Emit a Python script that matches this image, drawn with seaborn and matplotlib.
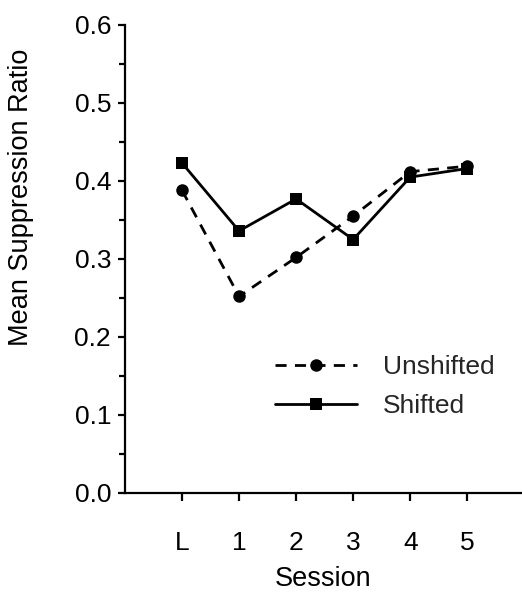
import matplotlib
matplotlib.use("Agg")
import matplotlib.pyplot as plt
import seaborn as sns
import pandas as pd
from matplotlib.ticker import MultipleLocator

sessions = ["L", "1", "2", "3", "4", "5"]
unshifted = [0.388, 0.252, 0.302, 0.355, 0.412, 0.419]
shifted = [0.423, 0.336, 0.377, 0.325, 0.405, 0.416]
groups = ["Unshifted", "Shifted"]

df = pd.DataFrame({
    "Session": sessions * 2,
    "Ratio": unshifted + shifted,
    "Group": [groups[0]] * len(sessions) + [groups[1]] * len(sessions),
})

sns.set_theme(style="ticks")
plt.rcParams["font.family"] = ["Liberation Sans", "DejaVu Sans"]

fig = plt.figure(figsize=(5.22, 5.93), dpi=100)
ax = fig.add_axes([125 / 522, 100 / 593, 1 - 125 / 522, 468 / 593])

sns.lineplot(
    data=df, x="Session", y="Ratio", style="Group", style_order=groups,
    markers={"Unshifted": "o", "Shifted": "s"},
    dashes={"Unshifted": (4, 3), "Shifted": ""},
    color="black", linewidth=2.0, markersize=9, markeredgewidth=0,
    sort=False, ax=ax,
)

ax.set_xlim(-1, 5.96)
ax.set_ylim(0, 0.6)
ax.yaxis.set_major_locator(MultipleLocator(0.1))
ax.yaxis.set_minor_locator(MultipleLocator(0.05))
ax.set_yticklabels([f"{v:.1f}" for v in ax.get_yticks()])
ax.set_ylim(0, 0.6)

for s in ["top", "right"]:
    ax.spines[s].set_visible(False)
for s in ["left", "bottom"]:
    ax.spines[s].set_linewidth(1.6)
    ax.spines[s].set_color("black")

ax.tick_params(axis="y", which="major", direction="out", length=5, width=1.6,
               labelsize=19, pad=5, colors="black")
ax.tick_params(axis="y", which="minor", direction="out", length=4, width=1.6,
               colors="black")
ax.tick_params(axis="x", which="major", direction="out", length=6, width=1.6,
               labelsize=19, pad=21, colors="black")

ax.set_xlabel("Session", fontsize=19.5, labelpad=8, color="black")
ax.set_ylabel("Mean Suppression Ratio", fontsize=19.5, color="black")
ax.yaxis.set_label_coords(-0.229, 0.632)

handles, labels = ax.get_legend_handles_labels()
ax.legend(handles, labels, loc="upper left", bbox_to_anchor=(150 / 397, 0.294),
          frameon=False, fontsize=19, handlelength=3.1, handletextpad=1.0,
          labelspacing=0.55, borderpad=0, borderaxespad=0)

fig.savefig("out.png", dpi=100)
